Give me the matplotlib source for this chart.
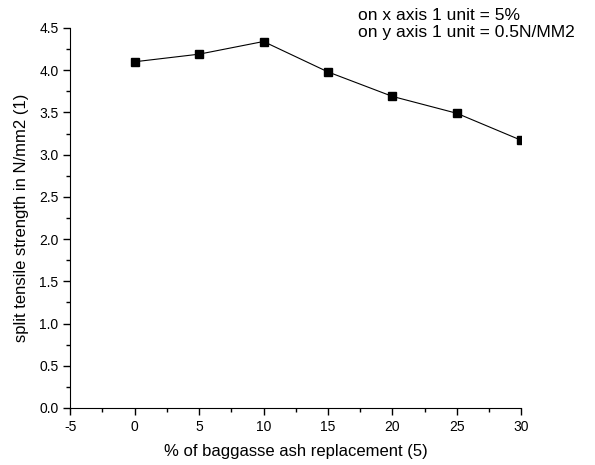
import matplotlib
matplotlib.use('Agg')
import matplotlib.pyplot as plt
from matplotlib.ticker import MultipleLocator

plt.rcParams['font.family'] = ['Liberation Sans', 'DejaVu Sans']
plt.rcParams['axes.unicode_minus'] = False

replacement = [0, 5, 10, 15, 20, 25, 30]
strength = [4.10, 4.19, 4.34, 3.98, 3.69, 3.49, 3.17]

fig = plt.figure(figsize=(5.95, 4.65), dpi=100)
ax = fig.add_axes([0.118, 0.1226, 0.758, 0.8172])

ax.plot(replacement, strength, color='black', linewidth=0.8,
        marker='s', markersize=6, markerfacecolor='black', clip_on=True)

ax.set_xlim(-5, 30)
ax.set_ylim(0, 4.5)
ax.xaxis.set_major_locator(MultipleLocator(5))
ax.xaxis.set_minor_locator(MultipleLocator(2.5))
ax.yaxis.set_major_locator(MultipleLocator(0.5))
ax.yaxis.set_minor_locator(MultipleLocator(0.25))
ax.yaxis.set_major_formatter(plt.FormatStrFormatter('%.1f'))

ax.spines['top'].set_visible(False)
ax.spines['right'].set_visible(False)
ax.tick_params(which='major', direction='out', length=5, width=1, labelsize=10)
ax.tick_params(which='minor', direction='out', length=3, width=1)

ax.set_xlabel('% of baggasse ash replacement (5)', fontsize=12, labelpad=7)
ax.set_ylabel('split tensile strength in N/mm2 (1)', fontsize=12, labelpad=7)

fig.text(0.602, 0.948, 'on x axis 1 unit = 5%\non y axis 1 unit = 0.5N/MM2',
         fontsize=12.5, ha='left', va='center', linespacing=1.15)

fig.savefig('out.png', dpi=100)
